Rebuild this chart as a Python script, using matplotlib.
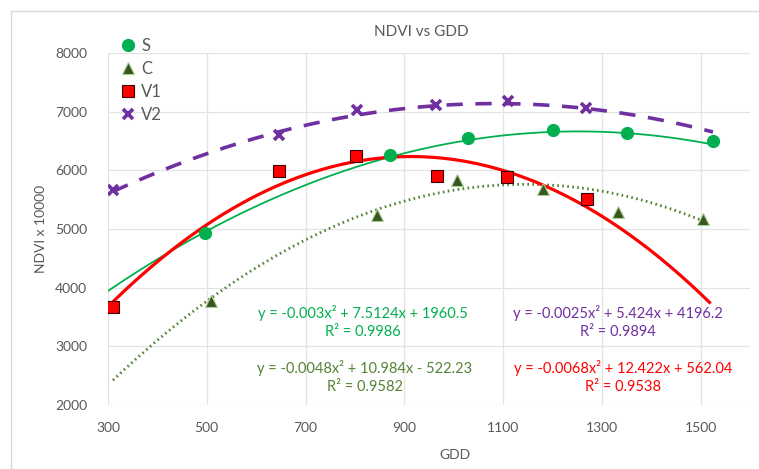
import numpy as np
import matplotlib
matplotlib.use("Agg")
import matplotlib.pyplot as plt
from matplotlib.patches import Rectangle

plt.rcParams['font.family'] = ['Lato', 'DejaVu Sans']

# NDVI (x 10000) readings against growing degree days
s_gdd = [496, 871, 1029, 1201, 1351, 1525]
s_ndvi = [4930, 6265, 6555, 6690, 6640, 6505]
c_gdd = [508, 845, 1006, 1181, 1332, 1504]
c_ndvi = [3780, 5235, 5835, 5680, 5290, 5170]
v1_gdd = [310, 646, 802, 966, 1108, 1270]
v1_ndvi = [3665, 5995, 6245, 5905, 5890, 5510]
v2_gdd = [310, 646, 804, 964, 1110, 1268]
v2_ndvi = [5665, 6605, 7035, 7120, 7190, 7070]

# polynomial trendlines (a, b, c, R^2)
s_fit = (-0.003, 7.5124, 1960.5, 0.9986)
c_fit = (-0.0048, 10.984, -522.23, 0.9582)
v1_fit = (-0.0068, 12.422, 562.04, 0.9538)
v2_fit = (-0.0025, 5.424, 4196.2, 0.9894)

x_ticks = [300, 500, 700, 900, 1100, 1300, 1500]
y_ticks = [2000, 3000, 4000, 5000, 6000, 7000, 8000]

green = '#00B050'
olive = '#548235'
red = '#FF0000'
purple = '#7030A0'
grey = '#595959'

fig = plt.figure(figsize=(7.59, 4.69), dpi=100)
ax = fig.add_axes([108/759, 1 - 405/469, 642/759, 352/469])

# chart area border
fig.patches.append(Rectangle((11/759, -0.1), 1.2, 1 - 11/469 + 0.1,
                             transform=fig.transFigure, fill=False,
                             edgecolor='#D9D9D9', linewidth=1))


def poly(fit, x):
    a, b, c, _ = fit
    return a * x**2 + b * x + c


def eq_text(fit):
    a, b, c, r2 = fit
    sign = '-' if c < 0 else '+'
    return (f'y = {a:g}x\u00b2 + {b:g}x {sign} {abs(c):g}', f'R\u00b2 = {r2:g}')


def span(lo, hi):
    return np.linspace(lo, hi, 300)


ax.plot(span(300, 1525), poly(s_fit, span(300, 1525)),
        color=green, lw=1.3, zorder=2)
ax.plot(span(310, 1504), poly(c_fit, span(310, 1504)),
        color=olive, lw=2, ls=(0, (0.6, 1.2)), zorder=2)
ax.plot(span(310, 1518), poly(v1_fit, span(310, 1518)),
        color=red, lw=2.3, zorder=2)
ax.plot(span(310, 1525), poly(v2_fit, span(310, 1525)),
        color=purple, lw=2.6, ls=(0, (4.5, 3.5)), zorder=2)

ax.plot(s_gdd, s_ndvi, 'o', ms=8.5, color=green, label='S', zorder=3)
ax.plot(c_gdd, c_ndvi, '^', ms=8, color='#375623', mec='#A9D18E', mew=0.8,
        label='C', zorder=3)
ax.plot(v1_gdd, v1_ndvi, 's', ms=8, color=red, mec='#3A0000', mew=0.8,
        label='V1', zorder=3)
ax.plot(v2_gdd, v2_ndvi, 'x', ms=7, color=purple, mew=2.6, label='V2', zorder=3)

# trendline equations
for fit, col, xc, yc in [(s_fit, green, 363, 313), (c_fit, olive, 365, 368),
                         (v2_fit, purple, 618, 313), (v1_fit, red, 623, 368)]:
    eq, r2 = eq_text(fit)
    ax.text(xc / 759, 1 - yc / 469, eq, transform=fig.transFigure,
            ha='center', va='center', color=col, fontsize=10.5)
    ax.text(xc / 759, 1 - (yc + 19) / 469, r2, transform=fig.transFigure,
            ha='center', va='center', color=col, fontsize=10.5)

ax.set_xlim(300, 1600)
ax.set_ylim(2000, 8000)
ax.set_xticks(x_ticks)
ax.set_yticks(y_ticks)
ax.grid(True, color='#E3E3E3', lw=0.9)
ax.set_axisbelow(True)
for sp in ax.spines.values():
    sp.set_visible(False)
ax.tick_params(length=0, labelsize=10, labelcolor=grey, pad=12)
ax.tick_params(axis='y', pad=15)

fig.text(421 / 759, 1 - 32 / 469, 'NDVI vs GDD', fontsize=11, color=grey,
         ha='center', va='center')
ax.set_xlabel('GDD', fontsize=10, color=grey)
ax.xaxis.set_label_coords(0.54, -0.125)
ax.set_ylabel('NDVI x 10000', fontsize=10, color=grey)
ax.yaxis.set_label_coords(-0.095, 0.5)

fig.legend(loc='upper left', bbox_to_anchor=(113/759, 1 - 30/469), frameon=False,
           fontsize=12, labelcolor=grey, handlelength=0.8, handletextpad=0.4,
           labelspacing=0.42, borderpad=0)

fig.savefig('out.png', dpi=100)
